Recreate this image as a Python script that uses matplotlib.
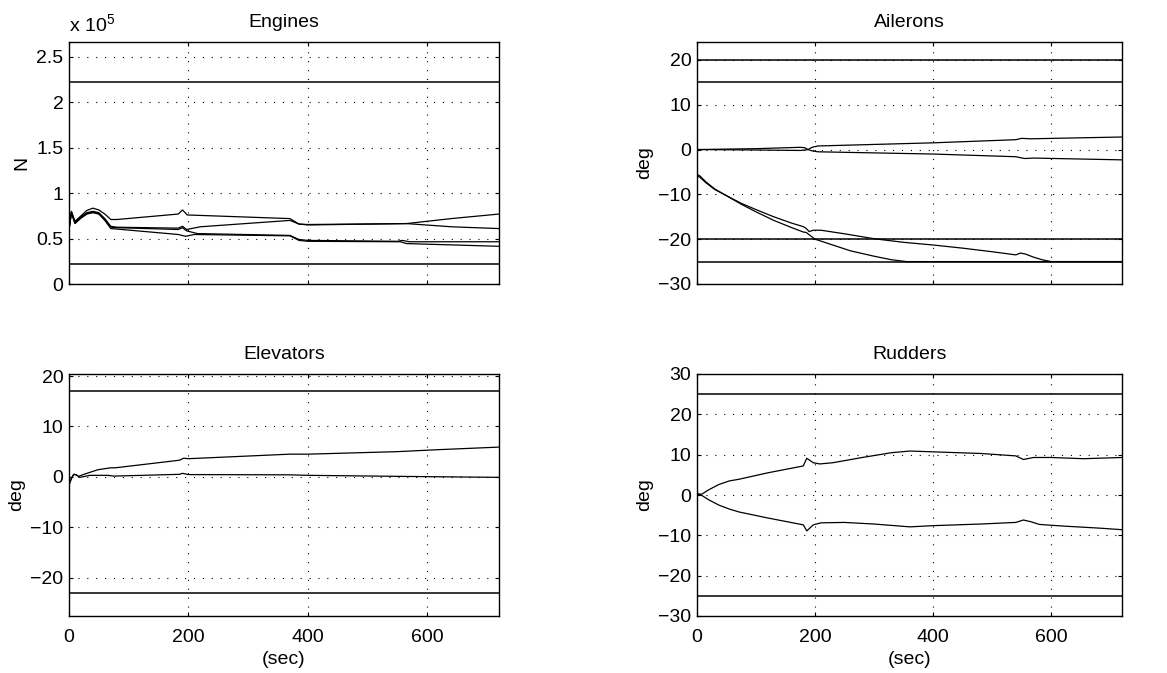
import matplotlib
matplotlib.use("Agg")
import matplotlib.pyplot as plt
from matplotlib.ticker import FuncFormatter

plt.rcParams['font.family'] = ['Liberation Sans', 'DejaVu Sans']
plt.rcParams['mathtext.fontset'] = 'custom'
plt.rcParams['mathtext.rm'] = 'Liberation Sans'
FS = 14
plt.rcParams['font.size'] = FS

# ---------------- Engines (thrust, units of 1e5 N) ----------------
eng_a_t = [0, 4, 10, 20, 30, 40, 50, 60, 70, 80, 183, 190, 198, 370, 385, 400, 565, 640, 720]
eng_a_v = [0.60, 0.80, 0.69, 0.75, 0.81, 0.835, 0.815, 0.77, 0.71, 0.71, 0.77, 0.815, 0.76, 0.72, 0.66, 0.65, 0.665, 0.72, 0.77]
eng_b_t = [0, 4, 10, 20, 30, 40, 50, 60, 70, 80, 183, 190, 197, 220, 370, 385, 400, 565, 640, 720]
eng_b_v = [0.60, 0.79, 0.68, 0.74, 0.785, 0.80, 0.785, 0.72, 0.635, 0.625, 0.615, 0.635, 0.60, 0.63, 0.70, 0.66, 0.655, 0.665, 0.63, 0.61]
eng_c_t = [0, 4, 10, 20, 30, 40, 50, 60, 70, 80, 183, 190, 197, 215, 370, 385, 400, 550, 558, 570, 720]
eng_c_v = [0.60, 0.79, 0.67, 0.73, 0.775, 0.79, 0.775, 0.71, 0.625, 0.62, 0.60, 0.62, 0.585, 0.555, 0.535, 0.49, 0.48, 0.47, 0.48, 0.465, 0.465]
eng_d_t = [0, 4, 10, 20, 30, 40, 50, 60, 70, 80, 183, 195, 210, 370, 385, 400, 555, 565, 720]
eng_d_v = [0.60, 0.78, 0.665, 0.725, 0.77, 0.785, 0.77, 0.70, 0.61, 0.605, 0.545, 0.525, 0.545, 0.53, 0.48, 0.47, 0.465, 0.445, 0.415]
eng_limits = [2.22, 0.222]

# ---------------- Ailerons (deg) ----------------
ail_a_t = [0, 100, 175, 183, 188, 195, 205, 400, 540, 550, 565, 720]
ail_a_v = [0.0, 0.2, 0.5, 0.4, 0.0, 0.5, 0.8, 1.5, 2.2, 2.5, 2.4, 2.8]
ail_b_t = [0, 100, 175, 183, 188, 195, 205, 400, 540, 555, 570, 720]
ail_b_v = [0.0, -0.1, -0.2, -0.1, 0.0, -0.3, -0.5, -1.0, -1.6, -2.0, -1.9, -2.3]
ail_c_t = [0, 5, 15, 30, 50, 75, 100, 130, 160, 180, 185, 190, 197, 210, 250, 300, 350, 400, 450, 500, 540, 548, 556, 570, 585, 600, 720]
ail_c_v = [-5.5, -5.9, -7.2, -8.8, -10.3, -12.0, -13.4, -15.0, -16.4, -17.2, -17.6, -18.3, -18.0, -18.0, -18.8, -19.9, -20.7, -21.3, -22.0, -22.8, -23.5, -23.1, -23.3, -24.0, -24.6, -25.0, -25.0]
ail_d_t = [0, 5, 15, 30, 50, 75, 100, 130, 160, 180, 185, 192, 200, 230, 260, 300, 330, 355, 720]
ail_d_v = [-5.8, -6.2, -7.4, -8.9, -10.3, -12.2, -13.9, -15.8, -17.4, -18.4, -18.5, -19.2, -20.0, -21.3, -22.6, -23.8, -24.6, -25.0, -25.0]
ail_limits = [20, 15, -20, -25]

# ---------------- Elevators (deg) ----------------
elv_a_t = [0, 4, 8, 12, 16, 25, 48, 70, 78, 185, 192, 200, 370, 400, 550, 620, 720]
elv_a_v = [-1.6, -0.3, 0.5, 0.4, 0.1, 0.5, 1.4, 1.8, 1.8, 3.3, 3.7, 3.6, 4.5, 4.5, 5.0, 5.4, 5.9]
elv_b_t = [0, 4, 8, 12, 18, 35, 65, 75, 185, 190, 200, 370, 400, 550, 720]
elv_b_v = [-1.6, -0.3, 0.5, 0.4, -0.1, 0.3, 0.3, 0.15, 0.5, 0.7, 0.45, 0.4, 0.3, 0.1, -0.1]
elv_limits = [17, -23]

# ---------------- Rudders (deg) ----------------
rud_a_t = [0, 8, 20, 37, 55, 71, 120, 180, 186, 197, 208, 230, 280, 330, 361, 420, 480, 540, 553, 570, 600, 655, 720]
rud_a_v = [0.3, 0.2, 1.3, 2.6, 3.5, 3.9, 5.5, 7.2, 9.1, 8.0, 7.7, 8.0, 9.3, 10.5, 10.9, 10.6, 10.3, 9.7, 8.8, 9.3, 9.3, 9.0, 9.3]
rud_b_t = [0, 8, 20, 37, 55, 71, 120, 180, 186, 197, 210, 250, 300, 361, 400, 480, 540, 553, 565, 580, 620, 680, 720]
rud_b_v = [0.3, -0.1, -1.2, -2.5, -3.5, -4.2, -5.7, -7.4, -8.9, -7.4, -6.9, -6.8, -7.2, -7.9, -7.6, -7.2, -6.8, -6.2, -6.6, -7.3, -7.7, -8.2, -8.6]
rud_limits = [25, -25]

x_ticks = [0, 200, 400, 600]
t_end = 720

fig = plt.figure(figsize=(11.67, 6.73), dpi=100)
W, H = 1167, 673
left_x, left_w = 69 / W, 430 / W
right_x, right_w = 697 / W, 425 / W
top_y, bot_y, ax_h = 1 - 284 / H, 1 - 616 / H, 242 / H

ax_eng = fig.add_axes([left_x, top_y, left_w, ax_h])
ax_ail = fig.add_axes([right_x, top_y, right_w, ax_h])
ax_elv = fig.add_axes([left_x, bot_y, left_w, ax_h])
ax_rud = fig.add_axes([right_x, bot_y, right_w, ax_h])

data_lw = 0.9
lim_lw = 1.1


def style(ax, title, ylabel, ylim, yticks, bottom):
    ax.set_xlim(0, t_end)
    ax.set_ylim(*ylim)
    ax.set_xticks(x_ticks)
    ax.set_yticks(yticks)
    ax.set_title(title, fontsize=FS, pad=11)
    ax.set_ylabel(ylabel, fontsize=FS, labelpad=4)
    ax.grid(True, color='black', linestyle=(0, (1, 7)), linewidth=0.8)
    ax.tick_params(direction='in', length=3, width=0.8, top=True, right=True,
                   labelsize=FS, pad=4)
    ax.tick_params(axis='x', pad=9)
    for s in ax.spines.values():
        s.set_linewidth(1.0)
    if bottom:
        ax.set_xlabel('(sec)', fontsize=FS, labelpad=4)
    else:
        ax.set_xticklabels([])


# Engines
for t, v in [(eng_a_t, eng_a_v), (eng_b_t, eng_b_v), (eng_c_t, eng_c_v), (eng_d_t, eng_d_v)]:
    ax_eng.plot(t, v, color='black', lw=data_lw)
for lim in eng_limits:
    ax_eng.axhline(lim, color='black', lw=lim_lw)
style(ax_eng, 'Engines', 'N', (0, 2.664), [0, 0.5, 1, 1.5, 2, 2.5], False)
ax_eng.yaxis.set_major_formatter(FuncFormatter(lambda v, p: f'{v:g}'))
ax_eng.text(0.0, 1.04, r'x 10$^{5}$', transform=ax_eng.transAxes,
            ha='left', va='baseline', fontsize=FS)

# Ailerons
for t, v in [(ail_a_t, ail_a_v), (ail_b_t, ail_b_v), (ail_c_t, ail_c_v), (ail_d_t, ail_d_v)]:
    ax_ail.plot(t, v, color='black', lw=data_lw)
for lim in ail_limits:
    ax_ail.axhline(lim, color='black', lw=lim_lw)
style(ax_ail, 'Ailerons', 'deg', (-30, 24), [-30, -20, -10, 0, 10, 20], False)

# Elevators
for t, v in [(elv_a_t, elv_a_v), (elv_b_t, elv_b_v)]:
    ax_elv.plot(t, v, color='black', lw=data_lw)
for lim in elv_limits:
    ax_elv.axhline(lim, color='black', lw=lim_lw)
style(ax_elv, 'Elevators', 'deg', (-27.6, 20.4), [-20, -10, 0, 10, 20], True)

# Rudders
for t, v in [(rud_a_t, rud_a_v), (rud_b_t, rud_b_v)]:
    ax_rud.plot(t, v, color='black', lw=data_lw)
for lim in rud_limits:
    ax_rud.axhline(lim, color='black', lw=lim_lw)
style(ax_rud, 'Rudders', 'deg', (-30, 30), [-30, -20, -10, 0, 10, 20, 30], True)

fig.savefig('out.png', dpi=100)
